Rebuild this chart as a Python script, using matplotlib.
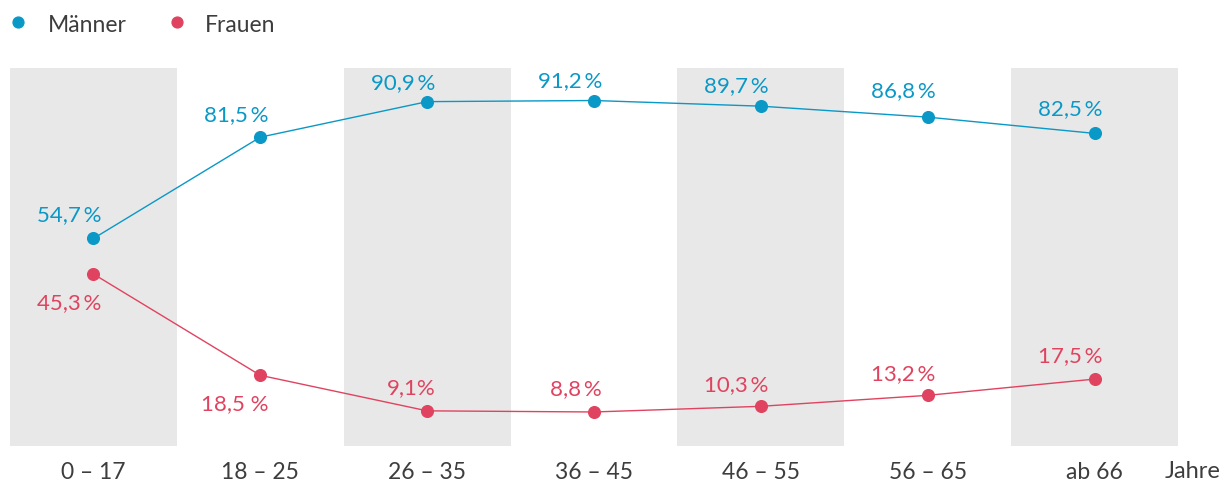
import matplotlib
matplotlib.use("Agg")
import matplotlib.pyplot as plt
from matplotlib.lines import Line2D

plt.rcParams['font.family'] = ['Lato', 'DejaVu Sans']

# data
groups = ["0 – 17", "18 – 25", "26 – 35", "36 – 45", "46 – 55", "56 – 65", "ab 66"]
maenner = [54.7, 81.5, 90.9, 91.2, 89.7, 86.8, 82.5]
frauen = [45.3, 18.5, 9.1, 8.8, 10.3, 13.2, 17.5]
maenner_lbl = ["54,7\u2009%", "81,5\u2009%", "90,9\u2009%", "91,2\u2009%", "89,7\u2009%", "86,8\u2009%", "82,5\u2009%"]
frauen_lbl = ["45,3\u2009%", "18,5 %", "9,1%", "8,8\u2009%", "10,3\u2009%", "13,2\u2009%", "17,5\u2009%"]

# label baseline offsets in pixels (positive = above point)
m_dy = [18, 17, 14, 14, 15, 21, 19]
f_dy = [-34, -34, 18, 18, 16, 16, 18]

blue = "#0a98c6"
red = "#e0435f"
grey_txt = "#3d3d3d"
band = "#e8e8e8"
W, H = 1224, 481

fig = plt.figure(figsize=(W / 100, H / 100), dpi=100)
ax = fig.add_axes([10 / W, (H - 447) / H, 1168 / W, 378 / H])

x = list(range(len(groups)))
for i in x:
    if i % 2 == 0:
        ax.axvspan(i - 0.5, i + 0.5, color=band, lw=0, zorder=0)

ax.plot(x, maenner, color=blue, lw=1.0, marker="o", ms=8.4, zorder=3)
ax.plot(x, frauen, color=red, lw=1.0, marker="o", ms=8.4, zorder=3)

for i in x:
    ax.annotate(maenner_lbl[i], (i, maenner[i]), xytext=(8, m_dy[i]),
                textcoords="offset pixels", ha="right", va="baseline",
                color=blue, fontsize=16)
    ax.annotate(frauen_lbl[i], (i, frauen[i]), xytext=(8, f_dy[i]),
                textcoords="offset pixels", ha="right", va="baseline",
                color=red, fontsize=16)

ax.set_xlim(-0.5, 6.5)
ax.set_ylim(-0.2, 99.8)
ax.set_yticks([])
ax.set_xticks(x)
ax.set_xticklabels(groups, fontsize=16.5, color=grey_txt)
for lbl in ax.get_xticklabels():
    lbl.set_va("baseline")
ax.tick_params(axis="x", length=0, pad=23)
for s in ax.spines.values():
    s.set_visible(False)

fig.text(1165 / W, (H - 478) / H, "Jahre", fontsize=17, color=grey_txt, va="baseline")

# legend
for cx, col, name, tx in [(18, blue, "Männer", 48), (177, red, "Frauen", 205)]:
    fig.add_artist(Line2D([cx / W], [(H - 23) / H], marker="o", ms=7.8, color=col,
                          lw=0, transform=fig.transFigure))
    fig.text(tx / W, (H - 32) / H, name, fontsize=16.5, color=grey_txt, va="baseline")

fig.savefig("out.png", dpi=100)
